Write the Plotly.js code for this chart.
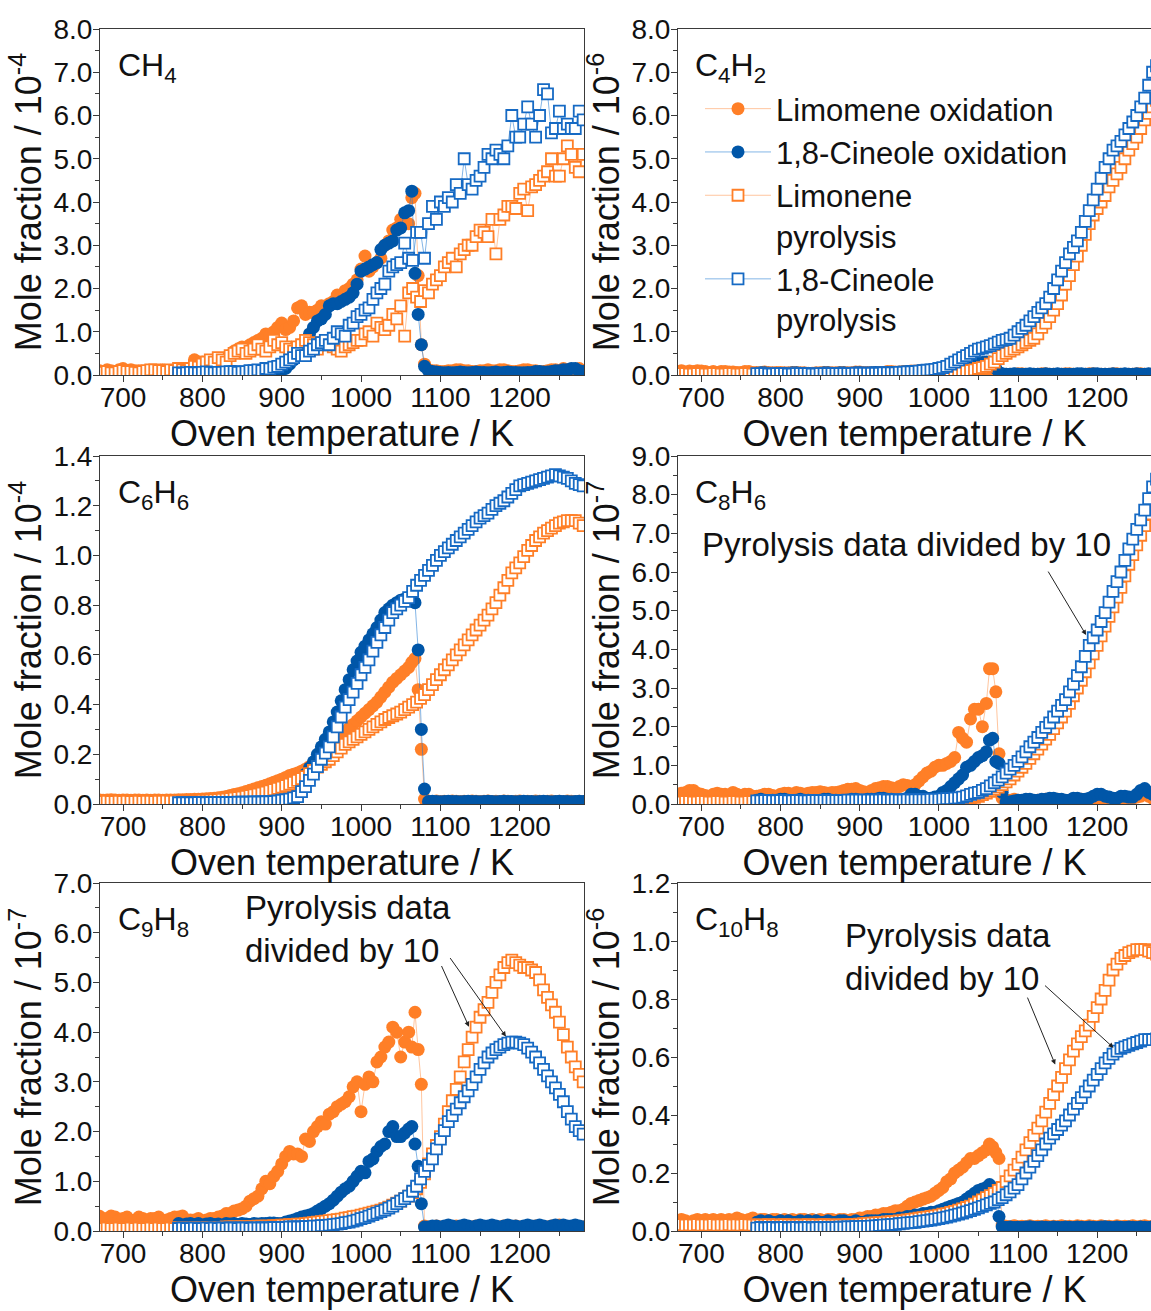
<!DOCTYPE html>
<html><head><meta charset="utf-8">
<script src="https://cdn.plot.ly/plotly-3.0.1.min.js"></script>
<style>html,body{margin:0;padding:0;background:#fff}</style>
</head><body>
<div id="chart" style="width:1151px;height:1311px"></div>
<script>
// ---------- Temperatures (K) ----------
const limOxT = [670,675,680,685,690,695,700,705,710,715,
  720,725,730,735,740,745,750,755,760,765,
  770,775,780,785,790,795,800,805,810,815,
  820,825,830,835,840,845,850,855,860,865,
  870,875,880,885,890,895,900,905,910,915,
  920,925,930,935,940,945,950,955,960,965,
  970,975,980,985,990,995,1000,1005,1010,1015,
  1020,1025,1030,1035,1040,1045,1050,1055,1060,
  1064,1068,1072,1076,1080,
  1085,1090,1095,1100,1105,1110,1115,1120,1125,1130,
  1135,1140,1145,1150,1155,1160,1165,1170,1175,1180,
  1185,1190,1195,1200,1205,1210,1215,1220,1225,1230,
  1235,1240,1245,1250,1255,1260,1265,1270,1275,1280];
const cinOxT = [770,775,780,785,790,795,800,805,810,815,
  820,825,830,835,840,845,850,855,860,865,
  870,875,880,885,890,895,900,905,910,915,
  920,925,930,935,940,945,950,955,960,965,
  970,975,980,985,990,995,1000,1005,1010,1015,
  1020,1025,1030,1035,1040,1045,1050,1055,1060,
  1064,1068,1072,1076,1080,
  1085,1090,1095,1100,1105,1110,1115,1120,1125,1130,
  1135,1140,1145,1150,1155,1160,1165,1170,1175,1180,
  1185,1190,1195,1200,1205,1210,1215,1220,1225,1230,
  1235,1240,1245,1250,1255,1260,1265,1270,1275,1280];
const limPyT = [670,675,680,685,690,695,700,705,710,715,
  720,725,730,735,740,745,750,755,760,765,
  770,775,780,785,790,795,800,805,810,815,
  820,825,830,835,840,845,850,855,860,865,
  870,875,880,885,890,895,900,905,910,915,
  920,925,930,935,940,945,950,955,960,965,
  970,975,980,985,990,995,1000,1005,1010,1015,
  1020,1025,1030,1035,1040,1045,1050,1055,1060,1065,
  1070,1075,1080,1085,1090,1095,1100,1105,1110,1115,
  1120,1125,1130,1135,1140,1145,1150,1155,1160,1165,
  1170,1175,1180,1185,1190,1195,1200,1205,1210,1215,
  1220,1225,1230,1235,1240,1245,1250,1255,1260,1265,
  1270,1275,1280];
const cinPyT = [770,775,780,785,790,795,800,805,810,815,
  820,825,830,835,840,845,850,855,860,865,
  870,875,880,885,890,895,900,905,910,915,
  920,925,930,935,940,945,950,955,960,965,
  970,975,980,985,990,995,1000,1005,1010,1015,
  1020,1025,1030,1035,1040,1045,1050,1055,1060,1065,
  1070,1075,1080,1085,1090,1095,1100,1105,1110,1115,
  1120,1125,1130,1135,1140,1145,1150,1155,1160,1165,
  1170,1175,1180,1185,1190,1195,1200,1205,1210,1215,
  1220,1225,1230,1235,1240,1245,1250,1255,1260,1265,
  1270,1275,1280];

// ---------- Labels ----------
const seriesNames = ['Limomene oxidation','1,8-Cineole oxidation','Limonene<br>pyrolysis','1,8-Cineole<br>pyrolysis'];
const speciesLabels = ['CH<sub>4</sub>','C<sub>4</sub>H<sub>2</sub>','C<sub>6</sub>H<sub>6</sub>','C<sub>8</sub>H<sub>6</sub>','C<sub>9</sub>H<sub>8</sub>','C<sub>10</sub>H<sub>8</sub>'];
const yTitles = ['Mole fraction / 10<sup>-4</sup>','Mole fraction / 10<sup>-6</sup>','Mole fraction / 10<sup>-4</sup>','Mole fraction / 10<sup>-7</sup>','Mole fraction / 10<sup>-7</sup>','Mole fraction / 10<sup>-6</sup>'];
const xTitle = 'Oven temperature / K';
const noteText = 'Pyrolysis data divided by 10';
const noteText2 = 'Pyrolysis data<br>divided by 10';

// ---------- CH4 (10^-4) ----------
const ch4LimOx = [0.10,0.08,0.12,0.10,0.08,0.12,0.15,0.10,0.12,0.10,
  0.10,0.08,0.08,0.10,0.10,0.08,0.12,0.10,0.08,0.10,
  0.12,0.10,0.12,0.15,0.35,0.30,0.30,0.28,0.32,0.30,
  0.28,0.35,0.40,0.45,0.55,0.60,0.65,0.60,0.70,0.75,
  0.80,0.85,0.95,0.90,1.00,1.10,1.20,1.05,1.10,1.25,
  1.55,1.60,1.40,1.45,1.45,1.50,1.60,1.55,1.65,1.70,
  1.85,1.80,1.95,2.00,2.10,2.20,2.45,2.75,2.40,2.50,
  2.60,2.70,3.00,3.10,3.35,3.40,3.60,3.50,3.50,
  4.10,4.20,2.30,0.70,0.25,
  0.12,0.10,0.10,0.08,0.08,0.10,0.10,0.12,0.12,0.10,
  0.10,0.08,0.08,0.10,0.10,0.12,0.10,0.10,0.12,0.12,
  0.10,0.08,0.08,0.10,0.12,0.12,0.10,0.10,0.08,0.08,
  0.10,0.12,0.12,0.10,0.15,0.12,0.10,0.10,0.15,0.10];
const ch4CinOx = [0.05,0.06,0.05,0.08,0.05,0.06,0.06,0.05,0.05,0.07,
  0.05,0.07,0.07,0.08,0.08,0.06,0.06,0.07,0.08,0.08,
  0.07,0.08,0.10,0.09,0.08,0.10,0.12,0.15,0.25,0.35,
  0.50,0.65,0.80,0.95,1.10,1.25,1.30,1.40,1.60,1.65,
  1.65,1.70,1.75,1.80,1.90,2.10,2.40,2.45,2.50,2.55,
  2.60,2.90,3.00,3.05,3.10,3.35,3.40,3.75,3.80,
  4.25,2.35,1.40,0.70,0.20,
  0.10,0.08,0.07,0.06,0.05,0.06,0.05,0.06,0.07,0.06,
  0.05,0.06,0.07,0.06,0.06,0.05,0.06,0.07,0.05,0.06,
  0.07,0.06,0.06,0.05,0.05,0.06,0.06,0.08,0.08,0.07,
  0.07,0.08,0.10,0.10,0.12,0.12,0.15,0.15,0.10,0.08];
const ch4LimPy = [0.05,0.06,0.08,0.05,0.05,0.08,0.10,0.08,0.08,0.06,
  0.05,0.08,0.10,0.12,0.12,0.10,0.10,0.08,0.12,0.10,
  0.15,0.12,0.10,0.15,0.20,0.18,0.25,0.30,0.35,0.30,
  0.40,0.35,0.30,0.45,0.50,0.55,0.60,0.50,0.55,0.60,
  0.70,0.60,0.55,0.65,0.80,0.70,0.75,0.65,0.60,0.55,
  0.65,0.70,0.80,0.75,0.70,0.60,0.75,0.80,0.70,0.65,
  0.60,0.55,0.65,0.70,0.75,0.80,0.80,0.95,1.00,0.90,
  1.20,1.10,1.05,1.15,1.40,1.30,1.60,0.90,1.90,2.00,
  1.80,1.70,1.95,1.90,2.10,2.20,2.30,2.50,2.60,2.70,
  2.50,2.80,2.90,3.00,3.00,3.20,3.35,3.30,3.20,3.60,
  2.80,3.60,3.70,3.90,3.90,3.85,4.20,4.30,3.80,4.35,
  4.40,4.50,4.60,4.70,5.00,4.60,4.60,5.00,5.30,5.10,
  4.80,4.70,5.10];
const ch4CinPy = [0.05,0.04,0.05,0.06,0.05,0.05,0.06,0.07,0.06,0.05,
  0.06,0.06,0.07,0.08,0.08,0.06,0.07,0.08,0.10,0.10,
  0.12,0.10,0.15,0.14,0.18,0.20,0.25,0.30,0.35,0.40,
  0.50,0.45,0.45,0.55,0.60,0.70,0.75,0.80,0.70,0.85,
  1.00,0.95,0.90,1.15,1.20,1.35,1.40,1.50,1.55,1.75,
  1.90,2.00,2.10,2.40,2.50,2.55,2.60,3.05,2.70,2.65,
  3.30,3.30,2.70,3.50,3.90,3.60,4.00,3.90,4.10,4.00,
  4.40,4.20,5.00,4.40,4.30,4.50,4.60,4.80,5.10,5.00,
  5.20,5.10,5.00,5.30,6.00,5.50,5.50,5.80,6.20,5.80,
  5.50,6.00,6.60,6.50,5.60,5.70,6.10,5.70,5.80,5.70,
  5.70,6.10,5.90];

// ---------- C4H2 (10^-6) ----------
const c4h2LimOx = [0.08,0.10,0.07,0.09,0.08,0.10,0.09,0.08,0.06,0.08,
  0.06,0.08,0.08,0.07,0.07,0.06,0.06,0.08,0.08,0.06,
  0.06,0.05,0.07,0.06,0.05,0.06,0.06,0.05,0.05,0.06,
  0.06,0.05,0.05,0.04,0.04,0.05,0.05,0.06,0.06,0.05,
  0.05,0.06,0.06,0.05,0.05,0.07,0.07,0.06,0.06,0.05,
  0.05,0.06,0.06,0.08,0.08,0.07,0.07,0.08,0.08,0.09,
  0.09,0.10,0.10,0.09,0.08,0.07,0.07,0.06,0.06,0.05,
  0.05,0.06,0.06,0.05,0.05,0.05,0.04,0.05,0.05,
  0.05,0.04,0.03,0.02,0.02,
  0.02,0.02,0.02,0.03,0.03,0.02,0.02,0.02,0.02,0.03,
  0.03,0.02,0.02,0.02,0.02,0.03,0.03,0.02,0.02,0.02,
  0.02,0.03,0.03,0.02,0.02,0.02,0.02,0.03,0.03,0.02,
  0.02,0.02,0.02,0.03,0.03,0.02,0.02,0.02,0.02,0.02];
const c4h2CinOx = [0.04,0.05,0.05,0.04,0.04,0.03,0.03,0.04,0.04,0.05,
  0.05,0.04,0.04,0.03,0.03,0.04,0.04,0.05,0.05,0.04,
  0.04,0.05,0.05,0.04,0.04,0.05,0.05,0.04,0.04,0.05,
  0.06,0.05,0.05,0.06,0.06,0.06,0.07,0.07,0.08,0.08,
  0.08,0.09,0.10,0.11,0.12,0.13,0.14,0.16,0.18,0.19,
  0.20,0.21,0.22,0.24,0.25,0.27,0.28,0.29,0.30,
  0.30,0.25,0.15,0.06,0.03,
  0.02,0.02,0.03,0.02,0.02,0.02,0.03,0.02,0.02,0.02,
  0.03,0.02,0.02,0.03,0.02,0.02,0.02,0.02,0.03,0.03,
  0.02,0.02,0.03,0.03,0.02,0.02,0.02,0.03,0.02,0.02,
  0.03,0.02,0.02,0.03,0.02,0.02,0.03,0.02,0.02,0.02];
const c4h2LimPy = [0.02,0.03,0.03,0.02,0.02,0.03,0.03,0.02,0.02,0.03,
  0.03,0.02,0.02,0.03,0.03,0.02,0.02,0.03,0.03,0.02,
  0.03,0.03,0.02,0.02,0.03,0.03,0.02,0.02,0.03,0.03,
  0.02,0.02,0.03,0.03,0.02,0.02,0.03,0.03,0.02,0.02,
  0.03,0.03,0.02,0.02,0.03,0.03,0.02,0.02,0.03,0.03,
  0.03,0.03,0.02,0.02,0.03,0.03,0.03,0.03,0.03,0.03,
  0.03,0.03,0.03,0.03,0.04,0.04,0.04,0.04,0.05,0.05,
  0.05,0.06,0.08,0.09,0.10,0.12,0.15,0.17,0.20,0.25,
  0.30,0.38,0.45,0.50,0.55,0.60,0.65,0.70,0.75,0.80,
  0.85,0.95,1.10,1.20,1.35,1.50,1.65,1.85,2.10,2.30,
  2.55,2.75,3.00,3.25,3.50,3.70,3.85,4.00,4.15,4.35,
  4.50,4.65,4.80,5.00,5.20,5.35,5.50,5.70,5.90,6.05,
  6.20,6.35,6.50];
const c4h2CinPy = [0.03,0.03,0.03,0.02,0.02,0.03,0.03,0.03,0.02,0.02,
  0.03,0.03,0.03,0.03,0.02,0.02,0.03,0.03,0.03,0.03,
  0.03,0.03,0.03,0.03,0.03,0.04,0.04,0.04,0.04,0.04,
  0.04,0.04,0.05,0.05,0.05,0.05,0.06,0.06,0.07,0.07,
  0.08,0.09,0.10,0.11,0.12,0.13,0.15,0.17,0.20,0.25,
  0.30,0.35,0.40,0.45,0.50,0.55,0.60,0.62,0.65,0.68,
  0.72,0.76,0.80,0.82,0.85,0.92,1.00,1.08,1.15,1.25,
  1.35,1.45,1.55,1.65,1.80,2.00,2.20,2.40,2.60,2.80,
  2.95,3.10,3.30,3.55,3.80,4.05,4.30,4.55,4.80,5.00,
  5.20,5.30,5.40,5.55,5.70,5.85,6.00,6.20,6.40,6.70,
  7.00,7.15,7.30];

// ---------- C6H6 (10^-4) ----------
const c6h6LimOx = [0.016,0.015,0.016,0.017,0.016,0.015,0.016,0.016,0.015,0.016,
  0.016,0.015,0.016,0.015,0.016,0.016,0.015,0.016,0.016,0.016,
  0.017,0.017,0.018,0.018,0.019,0.019,0.020,0.021,0.022,0.023,
  0.025,0.027,0.030,0.034,0.038,0.041,0.045,0.050,0.055,0.060,
  0.065,0.070,0.075,0.081,0.088,0.094,0.100,0.107,0.115,0.120,
  0.125,0.132,0.140,0.150,0.160,0.172,0.185,0.200,0.220,0.240,
  0.260,0.275,0.290,0.305,0.320,0.335,0.350,0.365,0.380,0.395,
  0.410,0.430,0.450,0.470,0.490,0.505,0.520,0.535,0.550,
  0.570,0.585,0.460,0.220,0.020,
  0.011,0.010,0.012,0.010,0.011,0.010,0.012,0.011,0.010,0.011,
  0.010,0.012,0.011,0.010,0.011,0.012,0.010,0.011,0.010,0.012,
  0.011,0.010,0.011,0.012,0.010,0.011,0.010,0.012,0.011,0.010,
  0.011,0.012,0.010,0.011,0.010,0.012,0.011,0.010,0.011,0.010];
const c6h6CinOx = [0.005,0.005,0.005,0.006,0.005,0.006,0.006,0.006,0.006,0.007,
  0.007,0.007,0.007,0.008,0.008,0.008,0.009,0.009,0.009,0.010,
  0.010,0.011,0.012,0.013,0.015,0.017,0.020,0.025,0.040,0.055,
  0.070,0.095,0.120,0.145,0.170,0.200,0.230,0.260,0.290,0.330,
  0.370,0.415,0.460,0.500,0.540,0.575,0.610,0.635,0.660,0.685,
  0.710,0.740,0.770,0.785,0.800,0.810,0.820,0.825,0.830,
  0.840,0.810,0.620,0.300,0.060,
  0.010,0.011,0.010,0.009,0.010,0.011,0.010,0.010,0.009,0.010,
  0.011,0.010,0.010,0.009,0.010,0.011,0.010,0.009,0.010,0.011,
  0.010,0.010,0.009,0.010,0.011,0.010,0.010,0.009,0.010,0.011,
  0.010,0.009,0.010,0.011,0.010,0.010,0.009,0.010,0.011,0.010];
const c6h6LimPy = [0.010,0.010,0.011,0.010,0.010,0.011,0.010,0.011,0.010,0.010,
  0.011,0.010,0.011,0.011,0.010,0.011,0.011,0.012,0.011,0.012,
  0.012,0.012,0.013,0.013,0.014,0.014,0.015,0.015,0.016,0.017,
  0.018,0.019,0.020,0.022,0.024,0.026,0.028,0.031,0.034,0.037,
  0.040,0.044,0.048,0.053,0.058,0.063,0.068,0.074,0.080,0.087,
  0.095,0.102,0.110,0.122,0.135,0.148,0.160,0.170,0.180,0.195,
  0.210,0.225,0.240,0.250,0.260,0.270,0.280,0.290,0.300,0.310,
  0.320,0.330,0.340,0.348,0.355,0.362,0.370,0.380,0.390,0.400,
  0.410,0.425,0.440,0.460,0.480,0.500,0.520,0.540,0.560,0.580,
  0.600,0.620,0.640,0.660,0.680,0.700,0.720,0.740,0.760,0.785,
  0.810,0.840,0.870,0.900,0.930,0.950,0.970,0.995,1.020,1.040,
  1.060,1.075,1.090,1.100,1.110,1.120,1.130,1.135,1.140,1.140,
  1.140,1.130,1.120];
const c6h6CinPy = [0.005,0.005,0.005,0.005,0.005,0.006,0.006,0.005,0.006,0.006,
  0.006,0.006,0.006,0.006,0.006,0.007,0.007,0.007,0.007,0.008,
  0.008,0.008,0.009,0.009,0.010,0.012,0.015,0.017,0.020,0.025,
  0.030,0.050,0.070,0.095,0.120,0.150,0.180,0.205,0.230,0.270,
  0.310,0.350,0.390,0.420,0.450,0.485,0.520,0.550,0.580,0.615,
  0.650,0.680,0.710,0.740,0.770,0.785,0.800,0.815,0.830,0.855,
  0.880,0.900,0.920,0.940,0.960,0.980,1.000,1.015,1.030,1.045,
  1.060,1.075,1.090,1.105,1.120,1.135,1.150,1.160,1.170,1.185,
  1.200,1.210,1.220,1.235,1.250,1.265,1.280,1.285,1.290,1.295,
  1.300,1.305,1.310,1.315,1.320,1.325,1.320,1.315,1.310,1.300,
  1.290,1.285,1.280];

// ---------- C8H6 (10^-7) ----------
const c8h6LimOx = [0.25,0.28,0.30,0.35,0.35,0.28,0.25,0.22,0.20,0.25,
  0.28,0.25,0.25,0.22,0.30,0.25,0.22,0.25,0.25,0.20,
  0.20,0.22,0.25,0.25,0.22,0.20,0.25,0.28,0.28,0.25,
  0.30,0.28,0.25,0.28,0.30,0.30,0.32,0.30,0.28,0.30,
  0.30,0.32,0.35,0.38,0.38,0.40,0.35,0.32,0.30,0.35,
  0.40,0.42,0.45,0.45,0.42,0.40,0.45,0.50,0.48,0.45,
  0.50,0.60,0.70,0.80,0.85,0.95,1.00,1.00,1.05,1.10,
  1.20,1.85,1.70,1.60,2.20,2.45,2.45,2.00,2.60,
  3.50,3.50,2.90,1.30,0.15,
  0.10,0.10,0.12,0.10,0.08,0.10,0.08,0.08,0.10,0.10,
  0.12,0.10,0.10,0.12,0.10,0.08,0.10,0.10,0.12,0.12,
  0.10,0.10,0.12,0.15,0.12,0.12,0.10,0.10,0.15,0.12,
  0.12,0.15,0.15,0.18,0.20,0.25,0.20,0.15,0.15,0.12];
const c8h6CinOx = [0.10,0.12,0.10,0.08,0.10,0.10,0.12,0.12,0.10,0.08,
  0.10,0.12,0.10,0.10,0.08,0.08,0.10,0.12,0.12,0.10,
  0.10,0.08,0.08,0.10,0.12,0.12,0.10,0.10,0.12,0.12,
  0.12,0.15,0.15,0.12,0.12,0.10,0.10,0.12,0.15,0.25,
  0.25,0.20,0.20,0.15,0.15,0.18,0.20,0.30,0.35,0.45,
  0.55,0.65,0.75,0.95,1.00,1.10,1.20,1.25,1.35,
  1.65,1.70,1.10,1.05,0.30,
  0.05,0.06,0.08,0.10,0.10,0.12,0.12,0.10,0.10,0.12,
  0.12,0.15,0.15,0.12,0.12,0.10,0.10,0.15,0.15,0.12,
  0.12,0.15,0.20,0.25,0.25,0.20,0.18,0.15,0.15,0.20,
  0.20,0.18,0.18,0.25,0.35,0.40,0.30,0.25,0.20,0.20];
const c8h6LimPy = [0.05,0.05,0.06,0.06,0.05,0.05,0.06,0.06,0.05,0.05,
  0.06,0.06,0.05,0.05,0.06,0.06,0.05,0.05,0.06,0.06,
  0.05,0.05,0.06,0.06,0.05,0.05,0.06,0.06,0.05,0.05,
  0.06,0.06,0.05,0.05,0.06,0.06,0.05,0.05,0.06,0.06,
  0.05,0.06,0.06,0.06,0.06,0.06,0.06,0.06,0.06,0.07,
  0.07,0.07,0.07,0.07,0.07,0.08,0.08,0.08,0.08,0.08,
  0.08,0.08,0.08,0.08,0.09,0.09,0.09,0.09,0.10,0.10,
  0.10,0.11,0.12,0.13,0.15,0.17,0.20,0.24,0.28,0.33,
  0.38,0.44,0.50,0.57,0.65,0.75,0.85,0.95,1.05,1.18,
  1.30,1.42,1.55,1.68,1.80,1.95,2.10,2.25,2.40,2.60,
  2.80,3.00,3.20,3.42,3.65,3.88,4.10,4.35,4.60,4.85,
  5.10,5.35,5.60,5.90,6.20,6.45,6.70,6.95,7.20,7.50,
  7.80,8.05,8.30];
const c8h6CinPy = [0.08,0.08,0.09,0.09,0.08,0.08,0.09,0.09,0.08,0.08,
  0.09,0.09,0.08,0.08,0.09,0.09,0.09,0.09,0.09,0.09,
  0.09,0.09,0.09,0.10,0.10,0.10,0.10,0.10,0.10,0.10,
  0.10,0.10,0.11,0.10,0.10,0.11,0.10,0.10,0.11,0.10,
  0.11,0.11,0.11,0.11,0.12,0.12,0.12,0.13,0.14,0.14,
  0.15,0.16,0.18,0.21,0.25,0.28,0.30,0.35,0.40,0.47,
  0.55,0.62,0.70,0.80,0.90,1.00,1.10,1.22,1.35,1.48,
  1.60,1.72,1.85,1.98,2.10,2.25,2.40,2.55,2.70,2.90,
  3.10,3.32,3.55,3.82,4.10,4.30,4.50,4.72,4.95,5.22,
  5.50,5.75,6.00,6.30,6.60,6.85,7.10,7.35,7.60,7.90,
  8.20,8.40,8.60];

// ---------- C9H8 (10^-7) ----------
const c9h8LimOx = [0.30,0.25,0.25,0.30,0.28,0.22,0.25,0.28,0.20,0.22,
  0.28,0.25,0.22,0.25,0.25,0.28,0.20,0.22,0.25,0.28,
  0.28,0.30,0.20,0.22,0.22,0.25,0.20,0.22,0.25,0.25,
  0.28,0.30,0.35,0.35,0.40,0.42,0.45,0.50,0.60,0.65,
  0.70,0.85,1.00,0.95,1.10,1.20,1.35,1.50,1.60,1.55,
  1.55,1.50,1.85,1.80,2.00,2.10,2.20,2.15,2.35,2.40,
  2.50,2.55,2.60,2.70,2.90,3.00,2.40,2.95,3.10,3.00,
  3.40,3.50,3.70,3.80,4.10,4.00,3.50,3.80,4.00,
  3.70,4.40,3.65,2.95,0.10,
  0.08,0.08,0.10,0.08,0.06,0.08,0.08,0.10,0.08,0.06,
  0.08,0.08,0.10,0.08,0.06,0.08,0.07,0.08,0.08,0.10,
  0.08,0.08,0.10,0.08,0.07,0.08,0.08,0.10,0.08,0.07,
  0.08,0.10,0.10,0.12,0.10,0.08,0.08,0.10,0.08,0.08];
const c9h8CinOx = [0.15,0.12,0.14,0.15,0.13,0.15,0.12,0.14,0.15,0.13,
  0.14,0.12,0.15,0.14,0.15,0.13,0.15,0.14,0.13,0.15,
  0.14,0.15,0.15,0.16,0.16,0.15,0.15,0.18,0.20,0.22,
  0.25,0.28,0.30,0.32,0.35,0.40,0.45,0.50,0.55,0.62,
  0.70,0.78,0.85,0.90,1.00,1.10,1.20,1.17,1.40,1.45,
  1.60,1.70,1.75,2.00,2.10,1.90,1.90,1.97,2.05,
  2.10,1.75,1.30,0.55,0.08,
  0.08,0.10,0.10,0.08,0.10,0.12,0.10,0.08,0.10,0.12,
  0.10,0.08,0.10,0.12,0.10,0.10,0.12,0.10,0.08,0.10,
  0.12,0.10,0.10,0.08,0.10,0.12,0.10,0.10,0.12,0.10,
  0.08,0.10,0.12,0.10,0.12,0.10,0.10,0.12,0.10,0.08];
const c9h8LimPy = [0.05,0.05,0.06,0.05,0.05,0.06,0.05,0.05,0.06,0.05,
  0.06,0.05,0.05,0.06,0.05,0.06,0.05,0.05,0.06,0.05,
  0.06,0.06,0.06,0.06,0.06,0.07,0.07,0.07,0.07,0.07,
  0.07,0.07,0.08,0.08,0.08,0.08,0.09,0.09,0.09,0.09,
  0.10,0.10,0.10,0.10,0.11,0.11,0.12,0.12,0.13,0.13,
  0.14,0.14,0.15,0.16,0.17,0.18,0.19,0.20,0.21,0.22,
  0.23,0.24,0.26,0.27,0.29,0.30,0.32,0.34,0.36,0.38,
  0.40,0.42,0.45,0.48,0.52,0.56,0.60,0.65,0.70,0.77,
  0.85,0.98,1.15,1.35,1.55,1.72,1.90,2.15,2.40,2.62,
  2.85,3.10,3.40,3.65,3.90,4.10,4.30,4.45,4.60,4.80,
  5.00,5.15,5.30,5.40,5.45,5.40,5.35,5.30,5.30,5.25,
  5.20,5.05,4.85,4.70,4.55,4.40,4.20,3.95,3.70,3.50,
  3.30,3.15,3.00];
const c9h8CinPy = [0.05,0.06,0.05,0.05,0.06,0.05,0.05,0.06,0.05,0.06,
  0.05,0.06,0.05,0.06,0.06,0.05,0.06,0.06,0.05,0.06,
  0.06,0.06,0.06,0.06,0.07,0.07,0.07,0.07,0.08,0.08,
  0.08,0.08,0.09,0.09,0.10,0.10,0.11,0.11,0.12,0.13,
  0.14,0.15,0.17,0.18,0.20,0.22,0.25,0.27,0.30,0.33,
  0.36,0.39,0.42,0.46,0.50,0.55,0.60,0.65,0.70,0.80,
  0.90,1.05,1.20,1.32,1.45,1.65,1.85,2.02,2.20,2.32,
  2.45,2.58,2.70,2.82,2.95,3.10,3.25,3.38,3.50,3.58,
  3.65,3.70,3.75,3.78,3.80,3.80,3.78,3.75,3.68,3.60,
  3.50,3.38,3.25,3.12,3.00,2.88,2.75,2.60,2.40,2.25,
  2.10,2.02,1.95];

// ---------- C10H8 (10^-6) ----------
const c10h8LimOx = [0.035,0.040,0.035,0.030,0.035,0.040,0.035,0.040,0.035,0.040,
  0.035,0.040,0.035,0.040,0.035,0.045,0.040,0.035,0.040,0.045,
  0.035,0.040,0.040,0.035,0.040,0.040,0.035,0.040,0.035,0.040,
  0.035,0.040,0.040,0.035,0.040,0.035,0.040,0.035,0.040,0.040,
  0.035,0.040,0.040,0.035,0.040,0.040,0.045,0.045,0.050,0.050,
  0.055,0.055,0.060,0.060,0.065,0.070,0.070,0.075,0.085,0.095,
  0.100,0.105,0.110,0.115,0.120,0.130,0.140,0.150,0.170,0.180,
  0.200,0.210,0.220,0.235,0.250,0.250,0.260,0.270,0.280,
  0.300,0.290,0.270,0.250,0.020,
  0.016,0.015,0.018,0.015,0.016,0.015,0.018,0.015,0.016,0.015,
  0.018,0.015,0.016,0.015,0.018,0.015,0.016,0.015,0.018,0.016,
  0.015,0.018,0.016,0.015,0.018,0.015,0.016,0.015,0.018,0.015,
  0.016,0.015,0.018,0.015,0.016,0.018,0.015,0.016,0.015,0.016];
const c10h8CinOx = [0.030,0.035,0.030,0.035,0.030,0.030,0.035,0.030,0.035,0.030,
  0.030,0.035,0.030,0.035,0.030,0.035,0.030,0.030,0.035,0.030,
  0.030,0.035,0.035,0.030,0.030,0.035,0.030,0.030,0.035,0.035,
  0.035,0.035,0.040,0.040,0.040,0.040,0.045,0.045,0.050,0.050,
  0.055,0.055,0.060,0.060,0.065,0.065,0.070,0.075,0.080,0.085,
  0.090,0.095,0.100,0.110,0.120,0.130,0.140,0.145,0.150,
  0.160,0.150,0.140,0.050,0.015,
  0.012,0.014,0.012,0.013,0.012,0.014,0.015,0.013,0.012,0.014,
  0.013,0.012,0.014,0.013,0.012,0.014,0.013,0.012,0.014,0.013,
  0.012,0.014,0.013,0.012,0.014,0.015,0.013,0.012,0.014,0.013,
  0.012,0.014,0.013,0.012,0.014,0.013,0.012,0.014,0.013,0.012];
const c10h8LimPy = [0.020,0.022,0.020,0.021,0.020,0.022,0.020,0.021,0.020,0.022,
  0.020,0.021,0.020,0.022,0.020,0.021,0.020,0.022,0.021,0.020,
  0.020,0.021,0.020,0.022,0.020,0.021,0.020,0.022,0.021,0.020,
  0.020,0.021,0.020,0.022,0.020,0.021,0.020,0.022,0.021,0.020,
  0.020,0.021,0.021,0.022,0.022,0.023,0.024,0.025,0.026,0.027,
  0.028,0.029,0.030,0.031,0.032,0.033,0.035,0.036,0.038,0.040,
  0.042,0.044,0.046,0.048,0.050,0.052,0.055,0.058,0.060,0.064,
  0.068,0.072,0.076,0.081,0.086,0.093,0.100,0.107,0.115,0.122,
  0.130,0.140,0.150,0.170,0.190,0.210,0.230,0.255,0.280,0.305,
  0.330,0.355,0.380,0.410,0.440,0.470,0.500,0.530,0.560,0.590,
  0.620,0.645,0.670,0.690,0.710,0.740,0.770,0.800,0.830,0.865,
  0.900,0.920,0.940,0.950,0.960,0.965,0.970,0.970,0.970,0.965,
  0.960,0.955,0.950];
const c10h8CinPy = [0.010,0.012,0.010,0.011,0.012,0.010,0.011,0.012,0.010,0.011,
  0.012,0.010,0.011,0.012,0.010,0.011,0.012,0.011,0.012,0.012,
  0.012,0.013,0.013,0.014,0.014,0.015,0.015,0.016,0.016,0.017,
  0.018,0.019,0.020,0.021,0.022,0.023,0.025,0.026,0.028,0.029,
  0.030,0.032,0.034,0.036,0.038,0.040,0.043,0.045,0.048,0.051,
  0.055,0.058,0.062,0.066,0.070,0.075,0.080,0.085,0.090,0.095,
  0.100,0.108,0.115,0.125,0.135,0.148,0.160,0.180,0.200,0.220,
  0.240,0.260,0.280,0.300,0.320,0.335,0.350,0.365,0.380,0.400,
  0.420,0.440,0.460,0.480,0.500,0.520,0.540,0.560,0.580,0.595,
  0.610,0.620,0.630,0.635,0.640,0.645,0.650,0.655,0.660,0.660,
  0.660,0.662,0.660];

// ---------- Arrow annotations (head / tail in data units) ----------
const c8h6Arrow = {x:1186, y:4.37, ax:1137, ay:6.05};
const c9h8Arrows = [{x:1136, y:4.11, ax:1100.6, ay:5.36},{x:1182.6, y:3.91, ax:1111, ay:5.52}];
const c10h8Arrows = [{x:1147, y:0.574, ax:1111.2, ay:0.81},{x:1220.6, y:0.632, ax:1132.2, ay:0.851}];

// ================= Build chart =================
const W = 1151, H = 1311;
const FONT = 'Liberation Sans, Arial, Helvetica, sans-serif';
const ORANGE = 'rgb(255,127,39)';
const BLUE = 'rgb(0,86,168)';
const BLUE_SQ = 'rgb(22,106,196)';
const AX = '#3a3a3a';

const xData = [limOxT, cinOxT, limPyT, cinPyT];
const panelData = [
  [ch4LimOx, ch4CinOx, ch4LimPy, ch4CinPy],
  [c4h2LimOx, c4h2CinOx, c4h2LimPy, c4h2CinPy],
  [c6h6LimOx, c6h6CinOx, c6h6LimPy, c6h6CinPy],
  [c8h6LimOx, c8h6CinOx, c8h6LimPy, c8h6CinPy],
  [c9h8LimOx, c9h8CinOx, c9h8LimPy, c9h8CinPy],
  [c10h8LimOx, c10h8CinOx, c10h8LimPy, c10h8CinPy]
];
const panels = [
  {box:[100,584,29,375],  xr:[671,1281],   yr:[0,8],   dt:1,   mt:0.5, right:false},
  {box:[678,1151,29,375], xr:[670.5,1268], yr:[0,8],   dt:1,   mt:0.5, right:true},
  {box:[100,584,456,804], xr:[671,1281],   yr:[0,1.4], dt:0.2, mt:0.1, right:false},
  {box:[678,1151,456,804],xr:[670.5,1268], yr:[0,9],   dt:1,   mt:0.5, right:true},
  {box:[100,584,883,1231],xr:[671,1281],   yr:[0,7],   dt:1,   mt:0.5, right:false},
  {box:[678,1151,883,1231],xr:[670.5,1268],yr:[0,1.2], dt:0.2, mt:0.1, right:true}
];

const styles = [
  {mode:'lines+markers', marker:{symbol:'circle', size:13, color:ORANGE}, line:{color:'rgba(255,127,39,0.45)', width:1}},
  {mode:'lines+markers', marker:{symbol:'circle', size:13, color:BLUE}, line:{color:'rgba(30,120,210,0.55)', width:1}},
  {mode:'lines+markers', marker:{symbol:'square', size:11, color:'#ffffff', line:{color:ORANGE, width:1.8}}, line:{color:'rgba(255,127,39,0.45)', width:1}},
  {mode:'lines+markers', marker:{symbol:'square', size:11, color:'#ffffff', line:{color:BLUE_SQ, width:1.8}}, line:{color:'rgba(30,120,210,0.55)', width:1}}
];

const traces = [];
const layout = {
  width: W, height: H,
  margin: {l:0, r:0, t:0, b:0},
  paper_bgcolor: '#fff', plot_bgcolor: '#fff',
  font: {family: FONT, color: '#111', size: 28},
  showlegend: true,
  legend: {
    x: 700/W, y: 1 - 82/H, xanchor: 'left', yanchor: 'top',
    bgcolor: 'rgba(0,0,0,0)', borderwidth: 0,
    font: {family: FONT, size: 31, color: '#111'},
    itemwidth: 66, valign: 'top', tracegroupgap: 0,
    itemclick: false, itemdoubleclick: false
  },
  annotations: [],
  shapes: []
};

panels.forEach((p, i) => {
  const k = i === 0 ? '' : String(i + 1);
  const xd = [p.box[0]/W, p.box[1]/W];
  const yd = [1 - p.box[3]/H, 1 - p.box[2]/H];
  for (let s = 0; s < 4; s++) {
    traces.push(Object.assign({
      type: 'scatter', x: xData[s], y: panelData[i][s],
      xaxis: 'x' + k, yaxis: 'y' + k,
      name: seriesNames[s], legendgroup: 'g' + s, showlegend: i === 0
    }, JSON.parse(JSON.stringify(styles[s]))));
  }
  layout['xaxis' + k] = {
    domain: xd, range: p.xr, anchor: 'y' + k,
    showline: true, linecolor: AX, linewidth: 1, mirror: true,
    ticks: 'outside', ticklen: 6, tickwidth: 1, tickcolor: AX,
    tick0: 700, dtick: 100,
    minor: {dtick: 50, ticks: 'outside', ticklen: 4, tickcolor: AX},
    showgrid: false, zeroline: false, ticklabelstandoff: -9,
    tickfont: {family: FONT, size: 28, color: '#111'},
    title: {text: xTitle, font: {family: FONT, size: 36, color: '#111'}, standoff: 9}
  };
  layout['yaxis' + k] = {
    domain: yd, range: p.yr, anchor: 'x' + k,
    showline: true, linecolor: AX, linewidth: 1, mirror: !p.right,
    ticks: 'outside', ticklen: 6, tickwidth: 1, tickcolor: AX,
    tick0: 0, dtick: p.dt, tickformat: '.1f',
    minor: {dtick: p.mt, ticks: 'outside', ticklen: 4, tickcolor: AX},
    showgrid: false, zeroline: false, ticklabelstandoff: -5,
    tickfont: {family: FONT, size: 28, color: '#111'},
    title: {text: yTitles[i], font: {family: FONT, size: 36, color: '#111'}, standoff: 0}
  };
  layout['xaxis' + (7 + i)] = {
    overlaying: 'x' + k, anchor: 'y' + k, side: 'top', domain: xd, range: p.xr,
    showline: false, ticks: 'inside', ticklen: 6, tickwidth: 1, tickcolor: AX,
    tick0: 700, dtick: 100, minor: {dtick: 50, ticks: 'inside', ticklen: 4, tickcolor: AX},
    showticklabels: false, showgrid: false, zeroline: false, fixedrange: true
  };
  if (!p.right) {
    layout['yaxis' + (7 + i)] = {
      overlaying: 'y' + k, anchor: 'x' + k, side: 'right', domain: yd, range: p.yr,
      showline: false, ticks: 'inside', ticklen: 6, tickwidth: 1, tickcolor: AX,
      tick0: 0, dtick: p.dt, minor: {dtick: p.mt, ticks: 'inside', ticklen: 4, tickcolor: AX},
      showticklabels: false, showgrid: false, zeroline: false, fixedrange: true
    };
  }
  layout.annotations.push({
    xref: 'x' + k + ' domain', yref: 'y' + k + ' domain',
    x: p.right ? 0.032 : 0.034, y: 0.955, xanchor: 'left', yanchor: 'top',
    text: speciesLabels[i], showarrow: false,
    font: {family: FONT, size: 32, color: '#111'}
  });
});

layout.annotations.push({xref:'x4', yref:'y4', x:959, y:6.70, text:noteText, showarrow:false,
  font:{family:FONT, size:33, color:'#111'}, xanchor:'center', yanchor:'middle'});
layout.annotations.push({xref:'x5', yref:'y5', x:984, y:6.07, text:noteText2, showarrow:false,
  font:{family:FONT, size:33, color:'#111'}, xanchor:'center', yanchor:'middle', align:'left'});
layout.annotations.push({xref:'x6', yref:'y6', x:1011, y:0.944, text:noteText2, showarrow:false,
  font:{family:FONT, size:33, color:'#111'}, xanchor:'center', yanchor:'middle', align:'left'});

function arrow(a, k) {
  return {xref:'x'+k, yref:'y'+k, axref:'x'+k, ayref:'y'+k, x:a.x, y:a.y, ax:a.ax, ay:a.ay,
    text:'', showarrow:true, arrowhead:2, arrowsize:1, arrowwidth:1, arrowcolor:'#222', standoff:0, startstandoff:0};
}
layout.annotations.push(arrow(c8h6Arrow, '4'));
c9h8Arrows.forEach(a => layout.annotations.push(arrow(a, '5')));
c10h8Arrows.forEach(a => layout.annotations.push(arrow(a, '6')));

Plotly.newPlot('chart', traces, layout, {staticPlot: true, displayModeBar: false});
</script>
</body></html>
